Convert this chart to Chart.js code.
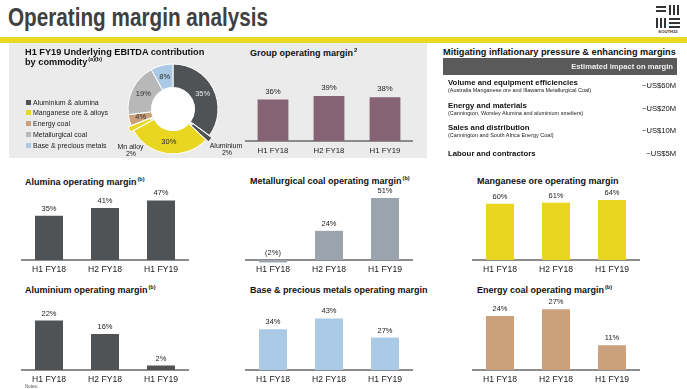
<!DOCTYPE html>
<html><head><meta charset="utf-8">
<script src="https://cdn.jsdelivr.net/npm/chart.js@4"></script>
<style>
html,body{margin:0;padding:0;background:#fff;}
#page{position:relative;width:687px;height:389px;overflow:hidden;font-family:"Liberation Sans",Arial,sans-serif;color:#1a1a1a;}
.t{position:absolute;white-space:nowrap;}
canvas{position:absolute;}
sup{font-size:5.5px;line-height:5.5px;vertical-align:top;position:relative;top:-1px;margin-left:1px;}
.blk{position:absolute;}
</style></head><body><div id="page"></div>
<script>
// ---------- data ----------
const periods = ['H1 FY18', 'H2 FY18', 'H1 FY19'];
const groupMargin = [36, 39, 38];
const aluminaMargin = [35, 41, 47];
const metCoalMargin = [-2, 24, 51];
const manganeseMargin = [60, 61, 64];
const aluminiumMargin = [22, 16, 2];
const basePreciousMargin = [34, 43, 27];
const energyCoalMargin = [24, 27, 11];

const ebitdaSlices = ['Aluminium & alumina', 'Aluminium', 'Manganese ore & alloys', 'Mn alloy', 'Energy coal', 'Metallurgical coal', 'Base & precious metals'];
const ebitdaShares = [35, 2, 30, 2, 4, 19, 8];
const legendLabels = ['Aluminium & alumina', 'Manganese ore & alloys', 'Energy coal', 'Metallurgical coal', 'Base & precious metals'];

const impactItems = ['Volume and equipment efficiencies', 'Energy and materials', 'Sales and distribution', 'Labour and contractors'];
const impactNotes = ['(Australia Manganese ore and Illawarra Metallurgical Coal)', '(Cannington, Worsley Alumina and aluminium smelters)', '(Cannington and South Africa Energy Coal)', ''];
const impactValues = ['~US$60M', '~US$20M', '~US$10M', '~US$5M'];

// ---------- styles ----------
const FONT = '"Liberation Sans", Arial, sans-serif';
const C = {
  dark: '#505356', yellow: '#e8d621', tan: '#cba17b', grey: '#b8b8b8', lightBlue: '#a9c9e4',
  metCoal: '#9ba4ac', mauve: '#866374', axis: '#8c8c8c', text: '#1a1a1a'
};
const sliceColors = [C.dark, C.dark, C.yellow, C.yellow, C.tan, C.grey, C.lightBlue];
const legendColors = [C.dark, C.yellow, C.tan, C.grey, C.lightBlue];

Chart.defaults.font.family = FONT;
const page = document.getElementById('page');

function box(x, y, w, h, color) {
  const d = document.createElement('div');
  d.className = 'blk';
  Object.assign(d.style, {left: x + 'px', top: y + 'px', width: w + 'px', height: h + 'px', background: color});
  page.appendChild(d);
  return d;
}
function text(x, cy, html, size, o = {}) {
  const d = document.createElement('div');
  d.className = 't';
  d.style.fontSize = size + 'px';
  d.style.lineHeight = size + 'px';
  d.style.top = (cy - size / 2) + 'px';
  d.style.fontWeight = o.bold ? 'bold' : 'normal';
  d.style.color = o.color || C.text;
  if (o.align === 'right') d.style.right = (687 - x) + 'px';
  else if (o.align === 'center') { d.style.left = x + 'px'; d.style.transform = 'translateX(-50%)'; }
  else d.style.left = x + 'px';
  d.innerHTML = html;
  page.appendChild(d);
  return d;
}
function canvasAt(x, y, w, h) {
  const c = document.createElement('canvas');
  c.width = w; c.height = h;
  Object.assign(c.style, {left: x + 'px', top: y + 'px', width: w + 'px', height: h + 'px'});
  page.appendChild(c);
  return c;
}

// ---------- header ----------
const title = text(8, 17, 'Operating margin analysis', 25, {bold: true, color: '#404040'});
title.style.display = 'inline-block';
title.style.transformOrigin = 'left center';
title.style.transform = 'scaleX(' + (260 / title.offsetWidth) + ')';
box(0, 37, 687, 6, '#e8d921');

// logo
const lc = '#333';
box(656, 6, 10, 2, lc); box(656, 10, 10, 2, lc);
for (let i = 0; i < 3; i++) box(669 + i * 4, 5, 2, 10, lc);
for (let i = 0; i < 3; i++) box(656 + i * 4, 18, 2, 10, lc);
for (let i = 0; i < 3; i++) box(669, 18 + i * 4, 11, 2, lc);
text(668, 32, 'SOUTH32', 4.2, {bold: true, align: 'center', color: lc});

// ---------- grey panel ----------
box(9, 43, 418, 115, '#ebebeb');

// ---------- plugins ----------
const valueLabels = {
  id: 'valueLabels',
  afterDatasetsDraw(chart, args, opts) {
    const ctx = chart.ctx;
    const meta = chart.getDatasetMeta(0);
    const data = chart.data.datasets[0].data;
    ctx.save();
    ctx.font = (opts.size || 7.5) + 'px ' + FONT;
    ctx.fillStyle = '#222';
    ctx.textAlign = 'center';
    ctx.textBaseline = 'middle';
    meta.data.forEach((bar, i) => {
      const v = data[i];
      const top = Math.min(bar.y, bar.base);
      ctx.fillText(v < 0 ? '(' + (-v) + '%)' : v + '%', bar.x, top - (opts.gap || 7));
    });
    ctx.restore();
  }
};

function barChart(left, baseline, values, color, max, o = {}) {
  const plotH = 90, axisH = 20, w = 168;
  const cv = canvasAt(left, baseline - plotH, w, plotH + axisH);
  return new Chart(cv.getContext('2d'), {
    type: 'bar',
    data: {labels: periods, datasets: [{data: values, backgroundColor: color, borderWidth: 0,
      categoryPercentage: 1, barPercentage: o.bp || 0.5, clip: false}]},
    options: {
      responsive: false, animation: false, devicePixelRatio: 1,
      layout: {padding: 0},
      plugins: {legend: {display: false}, tooltip: {enabled: false},
        valueLabels: {size: o.labelSize || 7.5, gap: o.gap || 7}},
      scales: {
        x: {grid: {display: false, drawTicks: false},
            border: {display: true, color: C.axis, width: 2},
            ticks: {padding: o.tickPad || 4, color: C.text, font: {size: o.tickSize || 8.6}, maxRotation: 0, autoSkip: false},
            afterFit(s) { s.height = axisH; }},
        y: {display: false, min: 0, max: max}
      }
    },
    plugins: [valueLabels]
  });
}

// ---------- donut ----------
const donutLabels = {
  id: 'donutLabels',
  beforeDatasetsDraw(chart) {
    const a = chart.getDatasetMeta(0).data[0];
    const ctx = chart.ctx;
    ctx.save();
    ctx.fillStyle = '#ffffff';
    ctx.beginPath();
    ctx.arc(a.x, a.y, a.innerRadius, 0, Math.PI * 2);
    ctx.fill();
    ctx.restore();
  },
  afterDatasetsDraw(chart) {
    const ctx = chart.ctx;
    const meta = chart.getDatasetMeta(0);
    const data = chart.data.datasets[0].data;
    ctx.save();
    ctx.font = '7.5px ' + FONT;
    ctx.textAlign = 'center';
    ctx.textBaseline = 'middle';
    meta.data.forEach((arc, i) => {
      if (i === 1 || i === 3) return;
      const ang = (arc.startAngle + arc.endAngle) / 2;
      const r = (arc.innerRadius + arc.outerRadius) / 2;
      ctx.fillStyle = i === 0 ? '#e6e6e6' : '#2a2a2a';
      ctx.fillText(data[i] + '%', arc.x + Math.cos(ang) * r, arc.y + Math.sin(ang) * r);
    });
    ctx.restore();
  }
};
const dc = canvasAt(113, 49, 120, 120);
new Chart(dc.getContext('2d'), {
  type: 'doughnut',
  data: {labels: ebitdaSlices, datasets: [{data: ebitdaShares, backgroundColor: sliceColors,
    borderColor: '#ffffff', borderWidth: 1, offset: [0, 7, 0, 7, 0, 0, 0]}]},
  options: {responsive: false, animation: false, devicePixelRatio: 1, radius: 45, cutout: '48%',
    layout: {padding: 0},
    plugins: {legend: {display: false}, tooltip: {enabled: false}}},
  plugins: [donutLabels]
});

text(25, 53, 'H1 FY19 Underlying EBITDA contribution', 9.2, {bold: true, color: '#111'});
text(25, 63, 'by commodity<sup>(a)(b)</sup>', 9.2, {bold: true, color: '#111'});
legendLabels.forEach((l, i) => {
  const cy = 102 + i * 10.8;
  box(26, cy - 2.5, 5, 5, legendColors[i]);
  text(33, cy, l, 7, {color: '#222'});
});
text(130.5, 146, 'Mn alloy', 7, {align: 'center', color: '#222'});
text(131, 153, '2%', 7, {align: 'center', color: '#222'});
text(226, 145, 'Aluminium', 7, {align: 'center', color: '#222'});
text(227, 152.5, '2%', 7, {align: 'center', color: '#222'});

// ---------- group operating margin ----------
text(250, 53, 'Group operating margin<sup style="font-size:6px">2</sup>', 9, {bold: true, color: '#111'});
barChart(245, 141, groupMargin, C.mauve, 78, {bp: 0.55, labelSize: 7.8, tickSize: 7.8, gap: 8, tickPad: 5});

// ---------- impact table ----------
text(443, 53, 'Mitigating inflationary pressure &amp; enhancing margins', 9.2, {bold: true, color: '#111'});
box(443, 58, 234, 17, '#5a5a5a');
text(673, 66.5, 'Estimated impact on margin', 7.6, {bold: true, align: 'right', color: '#eeeeee'});
const rowY = [83, 106, 128, 154];
const valY = [86, 109, 131, 154];
impactItems.forEach((it, i) => {
  text(448, rowY[i], it, 7.8, {bold: true, color: '#111'});
  if (impactNotes[i]) text(448, rowY[i] + 8, impactNotes[i], 5.5, {color: '#222'});
  text(676, valY[i], impactValues[i], 7.6, {align: 'right', color: '#111'});
});

// ---------- small charts ----------
text(25, 182, 'Alumina operating margin<sup>(b)</sup>', 9, {bold: true, color: '#111'});
barChart(21, 260, aluminaMargin, C.dark, 71);

text(250, 181.5, 'Metallurgical coal operating margin<sup>(b)</sup>', 9, {bold: true, color: '#111'});
barChart(245, 260, metCoalMargin, C.metCoal, 74);

text(477, 181.5, 'Manganese ore operating margin', 9, {bold: true, color: '#111'});
barChart(472, 260, manganeseMargin, C.yellow, 96);

text(25, 290, 'Aluminium operating margin<sup>(b)</sup>', 9, {bold: true, color: '#111'});
barChart(21, 370, aluminiumMargin, C.dark, 40);

text(250, 290, 'Base &amp; precious metals operating margin', 9, {bold: true, color: '#111'});
barChart(245, 370, basePreciousMargin, C.lightBlue, 75);

text(477, 290, 'Energy coal operating margin<sup>(b)</sup>', 9, {bold: true, color: '#111'});
barChart(472, 370, energyCoalMargin, C.tan, 40);

text(25, 387, 'Notes:', 4.5, {color: '#555'});
</script>
</body></html>
